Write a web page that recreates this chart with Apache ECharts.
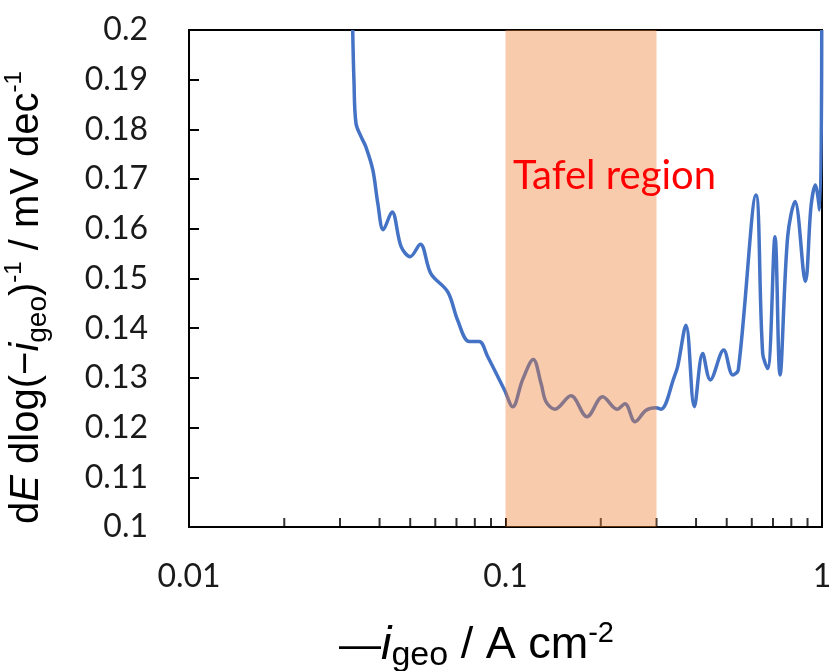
<!DOCTYPE html>
<html>
<head>
<meta charset="utf-8">
<script src="https://cdn.jsdelivr.net/npm/echarts@6/dist/echarts.min.js"></script>
<style>
  html, body { margin: 0; padding: 0; background: #fff; }
  #chart { width: 833px; height: 671px; }
</style>
</head>
<body>
<div id="chart"></div>
<script>
// Current density (−i_geo, A cm^-2) and local Tafel slope dE/dlog(−i_geo)
const currentDensity = [
  0.0329, 0.0332, 0.0337, 0.0350, 0.0362, 0.0381, 0.0395, 0.0411, 0.0438, 0.0468,
  0.0500, 0.0538, 0.0581, 0.0657, 0.0706, 0.0768, 0.0826, 0.0878, 0.0992, 0.1054,
  0.1132, 0.1224, 0.1295, 0.1343, 0.1433, 0.1610, 0.1809, 0.2028, 0.2251, 0.2385,
  0.2566, 0.2780, 0.2988, 0.3100, 0.3414, 0.3500, 0.3717, 0.3950, 0.4198, 0.4436,
  0.4891, 0.5222, 0.5438, 0.6186, 0.6496, 0.6736, 0.7103, 0.7367, 0.7789, 0.8216,
  0.8858, 0.9232, 0.9528, 0.9830, 0.9980
];
const tafelSlope = [
  0.2000, 0.1900, 0.1812, 0.1785, 0.1765, 0.1718, 0.1651, 0.1598, 0.1634, 0.1564,
  0.1544, 0.1569, 0.1510, 0.1473, 0.1416, 0.1373, 0.1373, 0.1343, 0.1276, 0.1242,
  0.1296, 0.1337, 0.1289, 0.1252, 0.1237, 0.1264, 0.1222, 0.1262, 0.1237, 0.1248,
  0.1212, 0.1235, 0.1240, 0.1237, 0.1302, 0.1323, 0.1406, 0.1242, 0.1349, 0.1296,
  0.1356, 0.1306, 0.1316, 0.1668, 0.1349, 0.1319, 0.1584, 0.1306, 0.1584, 0.1655,
  0.1494, 0.1645, 0.1688, 0.1638, 0.2000
];

// Tafel region bounds on the current axis
const tafelRange = [0.1, 0.3];

// Axis ranges and tick labels
const xTicks = [0.01, 0.1, 1];
const yTicks = [0.1, 0.11, 0.12, 0.13, 0.14, 0.15, 0.16, 0.17, 0.18, 0.19, 0.2];
// Logarithmic minor ticks within each decade
const minorMultipliers = [2, 3, 4, 5, 6, 7, 8, 9];
const minorTicks = [];
for (let d = 0; d < xTicks.length - 1; d++) {
  minorMultipliers.forEach(m => minorTicks.push([+(xTicks[d] * m).toPrecision(3), yTicks[0]]));
}

const seriesData = currentDensity.map((x, i) => [x, tafelSlope[i]]);

const labelFont = 'Lato';
const titleFont = 'Liberation Sans';

const chart = echarts.init(document.getElementById('chart'), null, { renderer: 'canvas' });
chart.setOption({
  animation: false,
  backgroundColor: '#ffffff',
  grid: {
    left: 189, right: 11, top: 30, bottom: 144,
    containLabel: false,
    outerBoundsMode: 'none',
    show: true, borderColor: '#000', borderWidth: 2, backgroundColor: 'transparent'
  },
  xAxis: {
    type: 'log',
    logBase: 10,
    min: xTicks[0],
    max: xTicks[xTicks.length - 1],
    axisLine: { show: true, onZero: false, lineStyle: { color: '#000', width: 2 } },
    axisTick: { show: true, inside: true, length: 9, lineStyle: { color: '#000', width: 2 } },
    splitLine: { show: false },
    axisLabel: { margin: 34, fontFamily: labelFont, fontSize: 32, color: '#1a1a1a' },
    name: '{dash|—}{it|i}{sub|geo}{n| / A cm}{sup|-2}',
    nameLocation: 'middle',
    nameGap: 92,
    nameTextStyle: {
      fontFamily: titleFont, fontSize: 45, color: '#000',
      padding: [0, 58, 0, 0],
      rich: {
        dash: { fontFamily: titleFont, fontSize: 42, lineHeight: 54, color: '#000' },
        it: { fontFamily: titleFont, fontSize: 47, fontStyle: 'italic', lineHeight: 54, color: '#000' },
        sub: { fontFamily: titleFont, fontSize: 34, lineHeight: 25, verticalAlign: 'bottom', color: '#000' },
        n: { fontFamily: titleFont, fontSize: 45, lineHeight: 54, color: '#000' },
        sup: { fontFamily: titleFont, fontSize: 29, lineHeight: 31, verticalAlign: 'top', color: '#000' }
      }
    }
  },
  yAxis: {
    type: 'value',
    min: yTicks[0],
    max: yTicks[yTicks.length - 1],
    interval: 0.01,
    axisLine: { show: true, onZero: false, lineStyle: { color: '#000', width: 2 } },
    axisTick: { show: true, inside: true, length: 10, lineStyle: { color: '#000', width: 2 } },
    splitLine: { show: false },
    axisLabel: {
      margin: 41, fontFamily: labelFont, fontSize: 32, color: '#1a1a1a',
      formatter: v => String(+v.toFixed(2))
    },
    name: '{n|d}{e|E}{n| dlog(−}{it|i}{sub|geo}{n|)}{sup|-1}{n| / mV dec}{sup|-1}',
    nameLocation: 'middle',
    nameRotate: 90,
    nameGap: 137,
    nameTextStyle: {
      fontFamily: titleFont, fontSize: 40, color: '#000',
      padding: [0, 38, 0, 0],
      rich: {
        n: { fontFamily: titleFont, fontSize: 40, lineHeight: 50, color: '#000' },
        e: { fontFamily: titleFont, fontSize: 40, fontStyle: 'italic', lineHeight: 50, color: '#000' },
        it: { fontFamily: titleFont, fontSize: 40, fontStyle: 'italic', lineHeight: 50, color: '#000' },
        sub: { fontFamily: titleFont, fontSize: 28, lineHeight: 22, verticalAlign: 'bottom', color: '#000' },
        sup: { fontFamily: titleFont, fontSize: 24, lineHeight: 30, verticalAlign: 'top', color: '#000' }
      }
    }
  },
  graphic: [{
    type: 'text',
    left: 513,
    top: 156,
    z: 100,
    style: { text: 'Tafel region', fontFamily: labelFont, fontSize: 40, fill: '#ff0000' }
  }],
  series: [
    {
      name: 'Tafel slope',
      type: 'line',
      data: seriesData,
      smooth: 0.35,
      showSymbol: false,
      clip: true,
      z: 2,
      lineStyle: { color: '#4472C4', width: 3.5 }
    },
    {
      // Shaded Tafel region, drawn above the curve
      name: 'Tafel region',
      type: 'line',
      data: [],
      z: 5,
      silent: true,
      markArea: {
        silent: true,
        z: 10,
        itemStyle: { color: 'rgba(237,125,49,0.4)' },
        data: [[{ xAxis: tafelRange[0] }, { xAxis: tafelRange[1] }]]
      }
    },
    {
      // Minor ticks on the logarithmic axis
      name: 'minor ticks',
      type: 'scatter',
      data: minorTicks,
      symbol: 'rect',
      symbolSize: [2, 9],
      symbolOffset: [0, -4.5],
      z: 6,
      silent: true,
      itemStyle: { color: '#000' }
    }
  ]
});
</script>
</body>
</html>
